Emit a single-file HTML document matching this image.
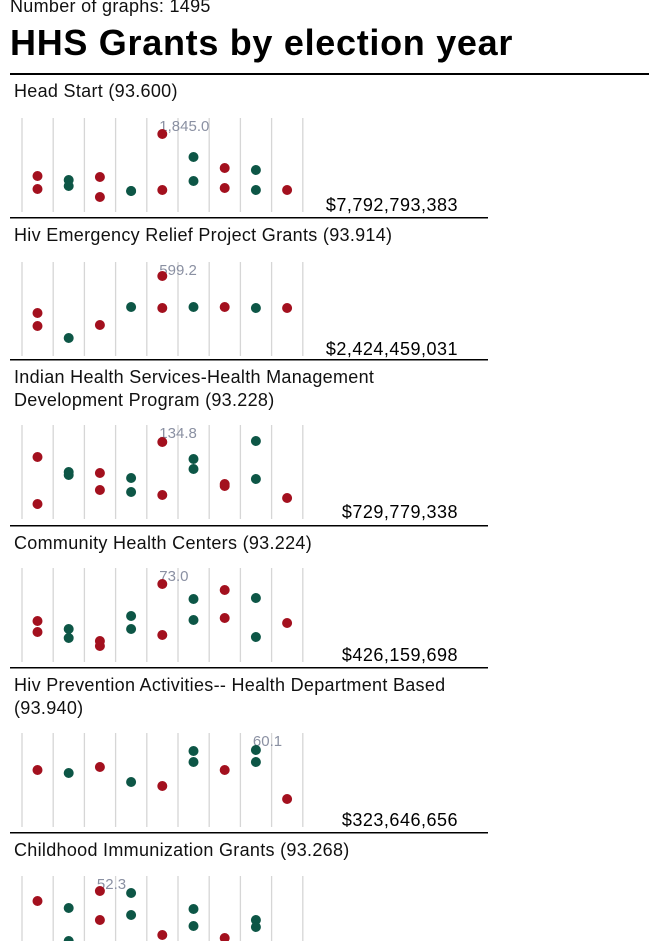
<!DOCTYPE html>
<html><head><meta charset="utf-8">
<style>
body{margin:0;width:650px;height:941px;overflow:hidden;background:#fff;font-family:"Liberation Sans",sans-serif;}
svg{display:block}
</style></head>
<body>
<svg id="chart" width="650" height="941">
<text x="10" y="12" font-size="18" letter-spacing="0.3" fill="#111">Number of graphs: 1495</text>
<text x="10" y="55" font-size="36" letter-spacing="0.7" font-weight="bold" fill="#000">HHS Grants by election year</text>
<rect x="10" y="73" width="639" height="2" fill="#000"/>
</svg>
<script>
const titles=[["Head Start (93.600)"],["Hiv Emergency Relief Project Grants (93.914)"],["Indian Health Services-Health Management","Development Program (93.228)"],["Community Health Centers (93.224)"],["Hiv Prevention Activities-- Health Department Based","(93.940)"],["Childhood Immunization Grants (93.268)"]];
const amounts=["$7,792,793,383","$2,424,459,031","$729,779,338","$426,159,698","$323,646,656",""];
const annotations=["1,845.0","599.2","134.8","73.0","60.1","52.3"];
const annotationCols=[4,4,4,4,7,2];
const series0=[[35,22],[31,25],[34,14],[20,20],[77,21],[54,30],[43,23],[41,21],[21]];
const series1=[[42,29],[17],[30],[48],[79,47],[48],[48],[47],[47]];
const series2=[[61,14],[46,43],[45,28],[40,26],[76,23],[59,49],[34,32],[77,39],[20]];
const series3=[[40,29],[32,23],[20,15],[45,32],[77,26],[62,41],[71,43],[63,24],[38]];
const series4=[[56],[53],[59],[44],[40],[75,64],[56],[76,64],[27]];
const series5=[[68],[61,28],[78,49],[76,54],[34],[60,43],[31],[49,42],[]];
const allSeries=[series0,series1,series2,series3,series4,series5];
const panelTops=[74,218,360,526,668,833];
const gridTops=[118,262,425,568,733,876];
const NS="http://www.w3.org/2000/svg";
const svg=document.getElementById('chart');
const colX=i=>37.5+i*31.2;
const yScale=(gt,v)=>gt+93-v;
function mk(tag,attrs){const e=document.createElementNS(NS,tag);for(const k in attrs)e.setAttribute(k,attrs[k]);svg.appendChild(e);return e;}
allSeries.forEach((ser,p)=>{
  const top=panelTops[p],gt=gridTops[p];
  if(p>0){const r=mk('rect',{x:10,y:top-1,width:478,height:1.5,fill:'#000'});
    
    }
  titles[p].forEach((t,li)=>{const tx=mk('text',{x:14,y:top+23+li*23,'font-size':18,'letter-spacing':0.3,fill:'#111'});tx.textContent=t;
    
    });
  for(let g=0;g<10;g++){const l=mk('line',{x1:22+g*31.2,x2:22+g*31.2,y1:gt,y2:Math.min(gt+94,941),stroke:'#d6d6d6','stroke-width':1.3});
    
    }
  const a=mk('text',{x:colX(annotationCols[p])-3,y:gt+13,'font-size':15,fill:'#8a90a2'});a.textContent=annotations[p];
  
  
  ser.forEach((vals,i)=>{vals.forEach(v=>{
    const c=mk('circle',{cx:colX(i),cy:yScale(gt,v),r:5,fill:i%2===0?'#a3101e':'#0d5646'});
    
    });});
  if(amounts[p]){const am=mk('text',{x:458,y:gt+93,'font-size':18,'letter-spacing':0.5,fill:'#000','text-anchor':'end'});am.textContent=amounts[p];
    
    }
});
</script>
</body></html>
